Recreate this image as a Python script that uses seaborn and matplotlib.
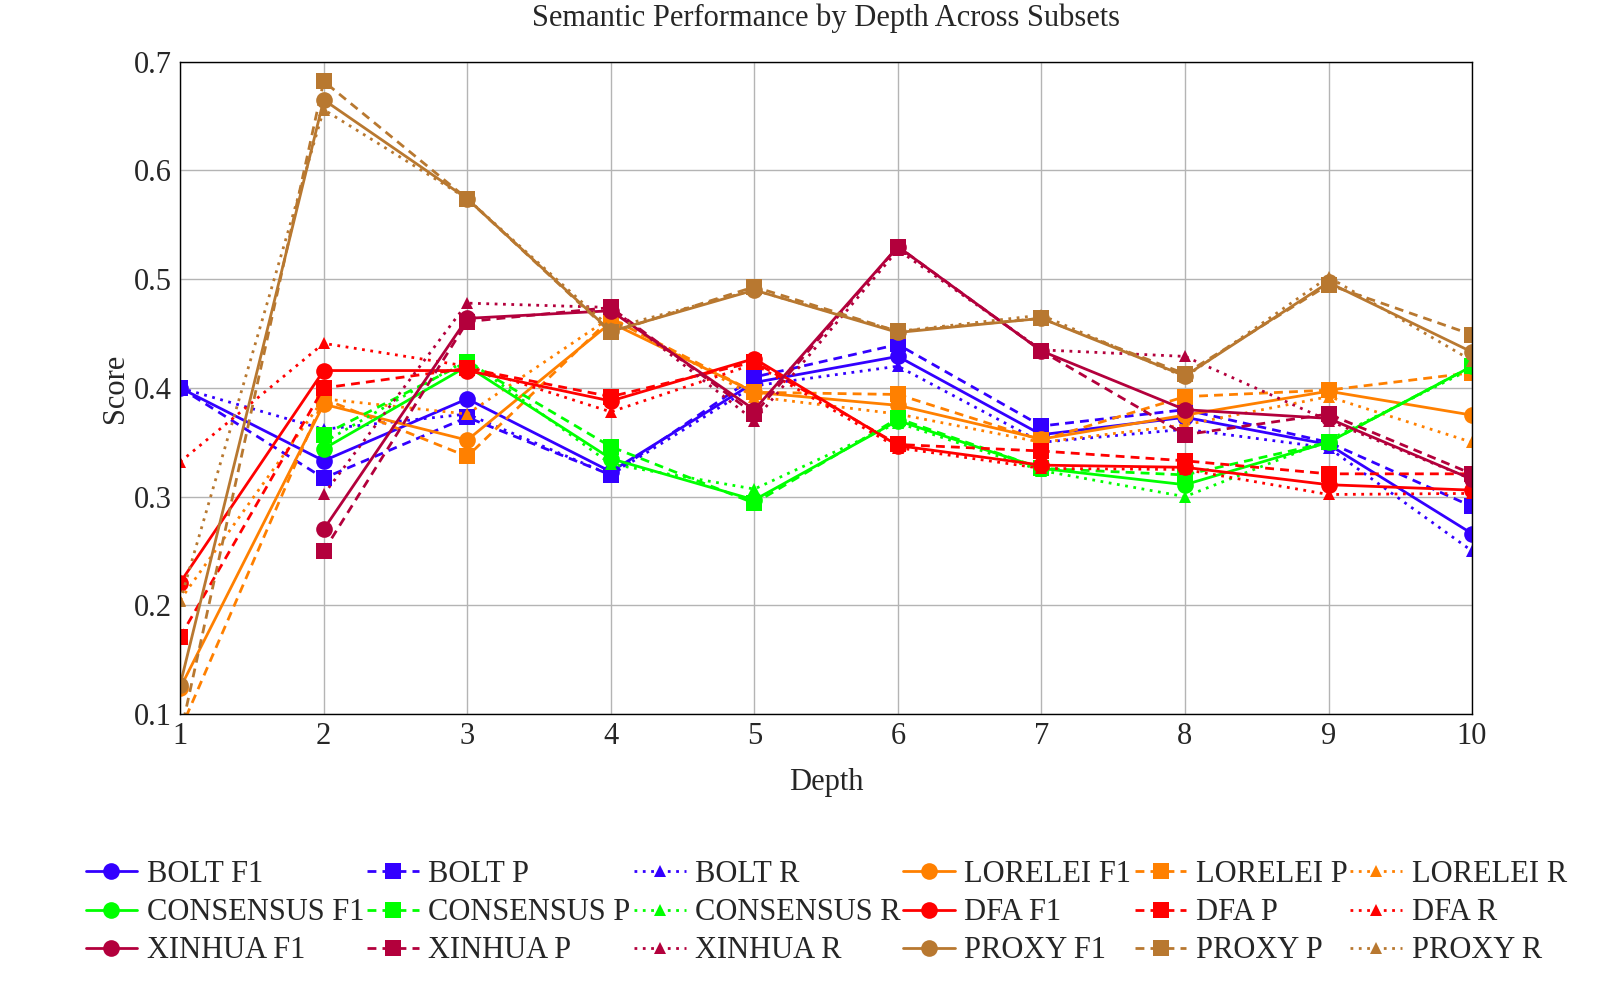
import numpy as np
import pandas as pd
import matplotlib
matplotlib.use("Agg")
import matplotlib.pyplot as plt
import seaborn as sns

nan = np.nan
depth = [1, 2, 3, 4, 5, 6, 7, 8, 9, 10]

bolt_f1 = [0.400, 0.333, 0.390, 0.323, 0.405, 0.429, 0.357, 0.373, 0.348, 0.266]
bolt_p = [0.400, 0.317, 0.373, 0.320, 0.410, 0.440, 0.365, 0.380, 0.350, 0.291]
bolt_r = [0.400, 0.362, 0.376, 0.320, 0.402, 0.420, 0.350, 0.362, 0.345, 0.250]

lorelei_f1 = [0.124, 0.385, 0.352, 0.460, 0.396, 0.384, 0.353, 0.375, 0.397, 0.375]
lorelei_p = [0.085, 0.390, 0.337, 0.464, 0.396, 0.394, 0.352, 0.392, 0.398, 0.414]
lorelei_r = [0.205, 0.390, 0.376, 0.465, 0.392, 0.376, 0.350, 0.366, 0.392, 0.350]

consensus_f1 = [nan, 0.344, 0.420, 0.335, 0.297, 0.370, 0.326, 0.311, 0.350, 0.420]
consensus_p = [nan, 0.357, 0.424, 0.346, 0.294, 0.372, 0.326, 0.320, 0.350, 0.420]
consensus_r = [nan, 0.350, 0.426, 0.330, 0.307, 0.368, 0.324, 0.300, 0.352, 0.418]

dfa_f1 = [0.221, 0.416, 0.416, 0.388, 0.427, 0.347, 0.329, 0.327, 0.311, 0.306]
dfa_p = [0.171, 0.400, 0.418, 0.392, 0.424, 0.348, 0.342, 0.333, 0.321, 0.321]
dfa_r = [0.332, 0.441, 0.420, 0.378, 0.422, 0.345, 0.326, 0.325, 0.302, 0.303]

xinhua_f1 = [nan, 0.270, 0.464, 0.471, 0.380, 0.530, 0.434, 0.380, 0.372, 0.316]
xinhua_p = [nan, 0.250, 0.461, 0.474, 0.376, 0.530, 0.434, 0.357, 0.376, 0.321]
xinhua_r = [nan, 0.302, 0.478, 0.474, 0.370, 0.527, 0.435, 0.429, 0.370, 0.316]

proxy_f1 = [0.127, 0.665, 0.574, 0.452, 0.490, 0.451, 0.464, 0.411, 0.497, 0.433]
proxy_p = [0.080, 0.682, 0.574, 0.451, 0.493, 0.452, 0.464, 0.413, 0.495, 0.449]
proxy_r = [0.204, 0.656, 0.574, 0.455, 0.490, 0.452, 0.467, 0.410, 0.502, 0.425]

# legend rows: (BOLT, LORELEI), (CONSENSUS, DFA), (XINHUA, PROXY)
subsets = ["BOLT", "LORELEI", "CONSENSUS", "DFA", "XINHUA", "PROXY"]
scores = {
    "BOLT": [bolt_f1, bolt_p, bolt_r],
    "LORELEI": [lorelei_f1, lorelei_p, lorelei_r],
    "CONSENSUS": [consensus_f1, consensus_p, consensus_r],
    "DFA": [dfa_f1, dfa_p, dfa_r],
    "XINHUA": [xinhua_f1, xinhua_p, xinhua_r],
    "PROXY": [proxy_f1, proxy_p, proxy_r],
}
metrics = ["F1", "P", "R"]

colors = {
    "BOLT": "#3300ff",
    "LORELEI": "#ff8000",
    "CONSENSUS": "#00ff00",
    "DFA": "#ff0000",
    "XINHUA": "#b3003c",
    "PROXY": "#b87830",
}
markers = {"F1": "o", "P": "s", "R": "^"}
msizes = {"F1": 12, "P": 11, "R": 9}
dash_styles = {"F1": "-", "P": (0, (3.2, 2.2)), "R": (0, (1, 2.0))}

sns.set_style("white")
plt.rcParams['font.family'] = ['Liberation Serif', 'DejaVu Serif']

fig, ax = plt.subplots(figsize=(16.23, 9.96), dpi=100)
fig.subplots_adjust(left=0.111, right=0.907, top=0.938, bottom=0.283)

handles = {}
for s in subsets:
    for m, vals in zip(metrics, scores[s]):
        df = pd.DataFrame({"Depth": depth, "Score": vals}).dropna()
        sns.lineplot(data=df, x="Depth", y="Score", ax=ax, color=colors[s],
                     linestyle=dash_styles[m], linewidth=2.0, marker=markers[m],
                     markersize=msizes[m], markeredgewidth=0, label=f"{s} {m}",
                     legend=False, clip_on=True)
        handles[(s, m)] = ax.lines[-1]

ax.set_xlim(1, 10)
ax.set_ylim(0.1, 0.7)
ax.set_xticks(depth)
ax.set_yticks([0.1, 0.2, 0.3, 0.4, 0.5, 0.6, 0.7])
ax.set_yticklabels(["0.1", "0.2", "0.3", "0.4", "0.5", "0.6", "0.7"])
ax.grid(True, color="#b4b4b4", linewidth=1.0)
ax.set_axisbelow(True)
for sp in ax.spines.values():
    sp.set_color("black")
    sp.set_linewidth(1.0)
ax.tick_params(axis="both", direction="in", length=6, color="#888888",
               labelsize=22, pad=6)
ax.set_xlabel("Depth", fontsize=22, labelpad=12)
ax.set_ylabel("Score", fontsize=22, labelpad=3)
ax.set_title("Semantic Performance by Depth Across Subsets", fontsize=22, pad=26)

# build row-wise order for a 6-column legend
rows = [["BOLT", "LORELEI"], ["CONSENSUS", "DFA"], ["XINHUA", "PROXY"]]
grid = [[(s, m) for s in r for m in metrics] for r in rows]
order = [grid[r][c] for c in range(6) for r in range(3)]
leg = ax.legend([handles[k] for k in order], [f"{k[0]} {k[1]}" for k in order],
                loc="upper center", bbox_to_anchor=(0.5, -0.205), ncol=6,
                frameon=False, fontsize=22, handlelength=1.7, handletextpad=0.3,
                columnspacing=0.1, labelspacing=0.3, borderaxespad=0)

fig.savefig("out.png", dpi=100)
